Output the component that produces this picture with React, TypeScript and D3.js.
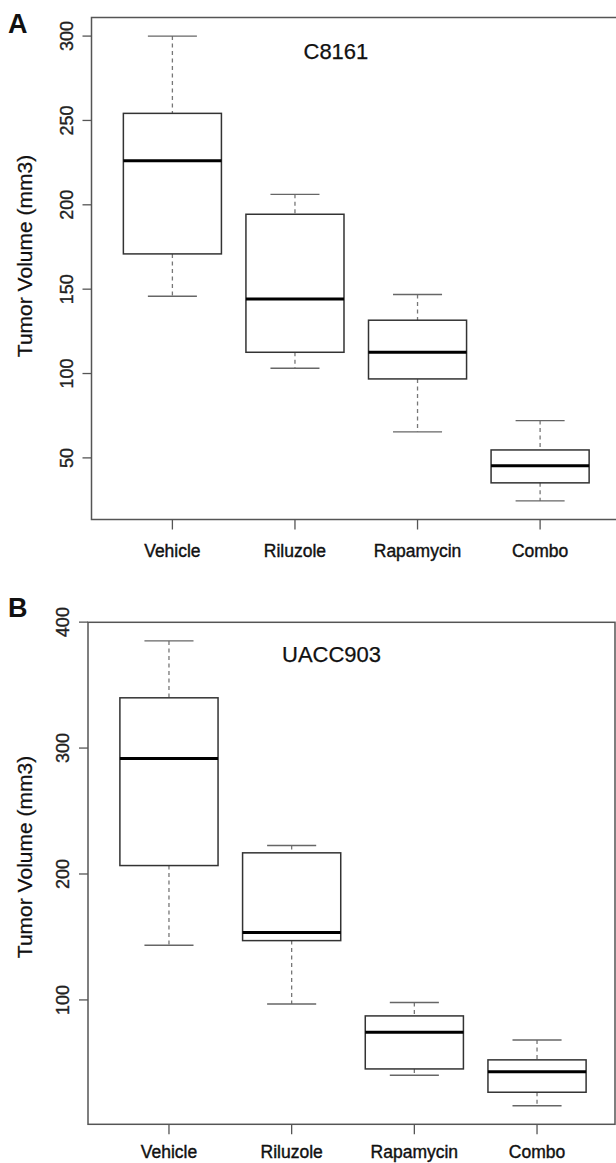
import * as d3 from "d3";
import React from "react";

// groups on the x axis
const groups = ["Vehicle", "Riluzole", "Rapamycin", "Combo"];

// panel A, C8161 — five number summaries
const c8161Low = [145.8, 103.1, 65.4, 24.5];
const c8161Q1 = [170.9, 112.6, 96.8, 35.2];
const c8161Median = [226.1, 144.2, 112.6, 45.4];
const c8161Q3 = [254.2, 194.4, 131.6, 54.7];
const c8161High = [300, 206.2, 146.8, 72.1];
const c8161Ticks = [50, 100, 150, 200, 250, 300];

// panel B, UACC903
const uaccLow = [143.4, 96.8, 40.2, 16];
const uaccQ1 = [206.7, 147.1, 45.2, 26.7];
const uaccMedian = [291.7, 153.5, 74.3, 43];
const uaccQ3 = [339.9, 216.8, 87.3, 52.4];
const uaccHigh = [385.1, 222.6, 97.9, 68.2];
const uaccTicks = [100, 200, 300, 400];

const font = "'Liberation Sans', Arial, Helvetica, sans-serif";

type PanelProps = {
  letter: string;
  title: string;
  low: number[];
  q1: number[];
  med: number[];
  q3: number[];
  high: number[];
  ticks: number[];
  left: number;
  right: number;
  frameRight: number;
  top: number;
  bottom: number;
  letterY: number;
  titleX: number;
  titleY: number;
  yTitleY: number;
  xLabelY: number;
};

const Panel = (p: PanelProps) => {
  // R style: 4% padding on the data range
  const lo = d3.min(p.low) as number;
  const hi = d3.max(p.high) as number;
  const pad = (hi - lo) * 0.04;
  const y = d3.scaleLinear().domain([lo - pad, hi + pad]).range([p.bottom, p.top]);
  const x = d3.scaleLinear().domain([0.34, groups.length + 0.66]).range([p.left, p.right]);
  const unit = x(1) - x(0);
  const boxW = unit * 0.8;
  const capW = boxW * 0.5;

  return (
    <g>
      <text x={8} y={p.letterY} fontFamily={font} fontWeight="bold" fontSize={27} fill="#111">
        {p.letter}
      </text>
      <rect
        x={p.left}
        y={p.top}
        width={p.frameRight - p.left}
        height={p.bottom - p.top}
        fill="none"
        stroke="#555"
        strokeWidth={1.5}
      />
      {/* y axis */}
      {p.ticks.map((t) => (
        <g key={t}>
          <line x1={p.left - 9} x2={p.left} y1={y(t)} y2={y(t)} stroke="#555" strokeWidth={1.3} />
          <text
            transform={`translate(${p.left - 19},${y(t)}) rotate(-90)`}
            textAnchor="middle"
            fontFamily={font}
            fontSize={18}
            fill="#222"
            stroke="#222"
            strokeWidth={0.35}
          >
            {t}
          </text>
        </g>
      ))}
      <text
        transform={`translate(32,${p.yTitleY}) rotate(-90)`}
        textAnchor="middle"
        fontFamily={font}
        fontSize={21}
        fill="#111"
        stroke="#111"
        strokeWidth={0.25}
      >
        Tumor Volume (mm3)
      </text>
      {/* x axis */}
      {groups.map((g, i) => (
        <g key={g}>
          <line x1={x(i + 1)} x2={x(i + 1)} y1={p.bottom} y2={p.bottom + 10} stroke="#555" strokeWidth={1.3} />
          <text
            x={x(i + 1)}
            y={p.xLabelY}
            textAnchor="middle"
            fontFamily={font}
            fontSize={17.5}
            fill="#111"
            stroke="#111"
            strokeWidth={0.4}
          >
            {g}
          </text>
        </g>
      ))}
      <text x={p.titleX} y={p.titleY} fontFamily={font} fontSize={22} fill="#111" stroke="#111" strokeWidth={0.25}>
        {p.title}
      </text>
      {/* boxes */}
      {groups.map((g, i) => {
        const cx = x(i + 1);
        return (
          <g key={"b" + g}>
            <line x1={cx} x2={cx} y1={y(p.high[i])} y2={y(p.q3[i])} stroke="#777" strokeWidth={1.3} strokeDasharray="4,3.5" />
            <line x1={cx} x2={cx} y1={y(p.q1[i])} y2={y(p.low[i])} stroke="#777" strokeWidth={1.3} strokeDasharray="4,3.5" />
            <line x1={cx - capW / 2} x2={cx + capW / 2} y1={y(p.high[i])} y2={y(p.high[i])} stroke="#666" strokeWidth={1.4} />
            <line x1={cx - capW / 2} x2={cx + capW / 2} y1={y(p.low[i])} y2={y(p.low[i])} stroke="#666" strokeWidth={1.4} />
            <rect
              x={cx - boxW / 2}
              y={y(p.q3[i])}
              width={boxW}
              height={y(p.q1[i]) - y(p.q3[i])}
              fill="none"
              stroke="#333"
              strokeWidth={1.5}
            />
            <line x1={cx - boxW / 2} x2={cx + boxW / 2} y1={y(p.med[i])} y2={y(p.med[i])} stroke="#000" strokeWidth={3} />
          </g>
        );
      })}
    </g>
  );
};

export default function App() {
  return (
    <svg
      width={616}
      height={1163}
      style={{ position: "absolute", left: 0, top: 0, background: "#fff" }}
    >
      <rect width={616} height={1163} fill="#fff" />
      <Panel
        letter="A"
        title="C8161"
        low={c8161Low}
        q1={c8161Q1}
        med={c8161Median}
        q3={c8161Q3}
        high={c8161High}
        ticks={c8161Ticks}
        left={91.5}
        right={621}
        frameRight={621}
        top={17.5}
        bottom={519.5}
        letterY={33}
        titleX={303.5}
        titleY={58.5}
        yTitleY={256}
        xLabelY={557}
      />
      <Panel
        letter="B"
        title="UACC903"
        low={uaccLow}
        q1={uaccQ1}
        med={uaccMedian}
        q3={uaccQ3}
        high={uaccHigh}
        ticks={uaccTicks}
        left={88}
        right={618}
        frameRight={615}
        top={622.3}
        bottom={1124.3}
        letterY={617}
        titleX={282}
        titleY={662}
        yTitleY={857}
        xLabelY={1158}
      />
    </svg>
  );
}
